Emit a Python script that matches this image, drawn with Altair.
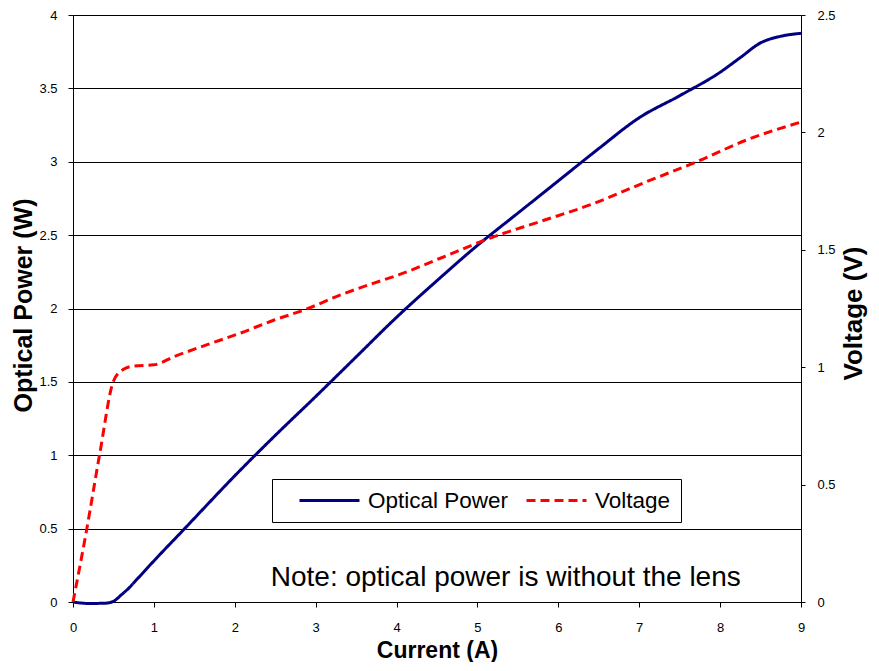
import altair as alt
import pandas as pd

# ---- data ----
power_current = [0, 0.2, 0.4, 0.5, 0.6, 0.7, 0.8, 1.0, 1.38, 1.5, 2.0, 2.5, 3.0, 3.5, 4.0,
                 4.5, 5.0, 5.5, 6.0, 6.5, 7.0, 7.5, 8.0, 8.25, 8.5, 8.75, 9.0]
power_w = [0, -0.01, -0.008, 0.005, 0.05, 0.10, 0.16, 0.28, 0.50, 0.57, 0.86, 1.135, 1.40,
           1.67, 1.94, 2.19, 2.43, 2.65, 2.87, 3.09, 3.30, 3.45, 3.61, 3.71, 3.81, 3.855, 3.875]

volt_current = [0, 0.17, 0.33, 0.5, 0.62, 0.75, 1.0, 1.25, 1.65, 2.06, 2.48, 2.89, 3.30,
                3.71, 4.04, 4.54, 5.15, 5.77, 6.39, 7.09, 7.71, 8.33, 9.0]
volt_v = [0, 0.31, 0.63, 0.94, 0.99, 1.005, 1.01, 1.045, 1.095, 1.144, 1.20, 1.248, 1.307,
          1.357, 1.395, 1.464, 1.549, 1.62, 1.691, 1.79, 1.875, 1.968, 2.044]

series_names = ["Optical Power", "Voltage"]
series_colors = ["#000080", "#ff0000"]

x_ticks = list(range(0, 10))
left_ticks = [0, 0.5, 1, 1.5, 2, 2.5, 3, 3.5, 4]
right_ticks = [0, 0.5, 1, 1.5, 2, 2.5]

note_text = ["Note: optical power is without the lens"]
note_x = [5.35]
note_y = [0.165]

FONT = "Liberation Sans"

power_df = pd.DataFrame({"current": power_current, "value": power_w,
                         "series": series_names[0]})
volt_df = pd.DataFrame({"current": volt_current, "value": volt_v,
                        "series": series_names[1]})
note_df = pd.DataFrame({"current": note_x, "value": note_y, "text": note_text})

x_enc = alt.X("current:Q",
              scale=alt.Scale(domain=[0, 9], nice=False, zero=False),
              axis=alt.Axis(values=x_ticks, format="d", title="Current (A)", grid=False,
                            domainColor="black", tickColor="black", tickSize=5,
                            labelFlush=False, labelBound=False,
                            labelPadding=14, labelFontSize=13, labelColor="black",
                            titleFontSize=23, titleFontWeight="bold", titleColor="black",
                            titleY=55, titleBaseline="alphabetic"))


def make_legend():
    return alt.Legend(title=None, orient="none", legendX=199, legendY=464,
                      direction="horizontal", symbolType="M-1,0H5",
                      symbolSize=400, symbolStrokeWidth=3, symbolFillColor="transparent",
                      symbolOffset=16, labelOffset=47, columnPadding=0,
                      labelFontSize=22.5, labelColor="black", labelFont=FONT,
                      padding=10, strokeColor="black", fillColor="white",
                      labelLimit=300)


color_enc = alt.Color("series:N",
                      scale=alt.Scale(domain=series_names, range=series_colors),
                      legend=make_legend())
dash_enc = alt.StrokeDash("series:N",
                          scale=alt.Scale(domain=series_names, range=[[1, 0], [9, 5]]),
                          legend=make_legend())

power_line = alt.Chart(power_df).mark_line(strokeWidth=3, interpolate="monotone").encode(
    x=x_enc,
    y=alt.Y("value:Q",
            scale=alt.Scale(domain=[0, 4], nice=False),
            axis=alt.Axis(values=left_ticks, format="~g", title="Optical Power (W)", grid=True,
                          gridColor="black", gridOpacity=1, gridWidth=1,
                          domainColor="black", tickColor="black", tickSize=5,
                          labelFlush=False, labelBound=False,
                          labelPadding=11, labelFontSize=13, labelColor="black",
                          titleFontSize=25, titleFontWeight="bold", titleColor="black",
                          titleX=-50, titleY=290, titleAngle=270,
                          titleAlign="center", titleBaseline="middle")),
    color=color_enc,
    strokeDash=dash_enc,
)

note = alt.Chart(note_df).mark_text(fontSize=28, font=FONT, color="black").encode(
    x=alt.X("current:Q"),
    y=alt.Y("value:Q"),
    text="text:N",
)

volt_line = alt.Chart(volt_df).mark_line(strokeWidth=3, interpolate="monotone").encode(
    x=alt.X("current:Q"),
    y=alt.Y("value:Q",
            scale=alt.Scale(domain=[0, 2.5], nice=False),
            axis=alt.Axis(orient="right", values=right_ticks, format="~g", title="Voltage (V)",
                          grid=False, domainColor="black", tickColor="black", tickSize=4,
                          labelFlush=False, labelBound=False,
                          labelPadding=12, labelFontSize=13, labelColor="black",
                          titleFontSize=26, titleFontWeight="bold", titleColor="black",
                          titleX=52, titleY=298, titleAngle=270,
                          titleAlign="center", titleBaseline="middle")),
    color=color_enc,
    strokeDash=dash_enc,
)

chart = alt.layer(alt.layer(power_line, note), volt_line).resolve_scale(
    y="independent"
).properties(
    width=728, height=587,
    autosize=alt.AutoSizeParams(type="none"),
    padding={"left": 65, "top": 7, "right": 70, "bottom": 60},
    background="white",
).configure_view(stroke=None).configure_axis(
    labelFont=FONT, titleFont=FONT
)

chart.save("out.html", embed_options={"renderer": "svg", "actions": False})
